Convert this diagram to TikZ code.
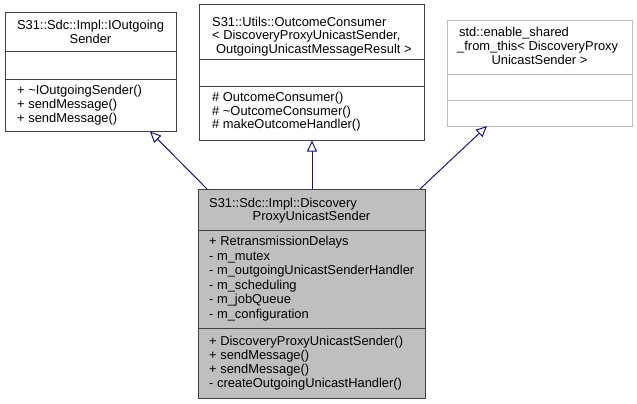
\documentclass[tikz,border=0pt]{standalone}
\usepackage{fontspec}
\newfontfamily\umlfont{Liberation Sans}
\usetikzlibrary{arrows.meta}
\definecolor{edgeblue}{HTML}{191970}
\definecolor{boxline}{HTML}{404040}
\definecolor{paleline}{HTML}{BFBFBF}
\definecolor{mainfill}{HTML}{BFBFBF}
\tikzset{
  txt/.style={anchor=base west, inner sep=0pt, font=\umlfont\fontsize{12.9}{14}\selectfont},
  ctxt/.style={txt, anchor=base},
  classbox/.style={draw=boxline, line width=1pt},
  inherit/.style={draw=edgeblue, line width=1pt,
    -{Triangle[open, length=11pt, width=10pt, fill=white]}},
}
\begin{document}
\begin{tikzpicture}[x=1pt, y=-1pt]
\useasboundingbox (0,0) rectangle (637,404);

% S31::Sdc::Impl::IOutgoingSender
\draw[classbox, fill=white] (5,13) rectangle (176,131);
\draw[boxline, line width=1pt] (5,52) -- (176,52) (5,79) -- (176,79);
\node[ctxt] (t1a) at (90.5,30) {S31::Sdc::Impl::IOutgoing};
\node[ctxt] (t1b) at (90.5,44) {Sender};
\node[txt] (m1a) at (17,94.3) {+ \textasciitilde IOutgoingSender()};
\node[txt] (m1b) at (17,108.3) {+ sendMessage()};
\node[txt] (m1c) at (17,122.3) {+ sendMessage()};

% S31::Utils::OutcomeConsumer
\draw[classbox, fill=white] (199,5) rectangle (424,140);
\draw[boxline, line width=1pt] (199,60) -- (424,60) (199,86) -- (424,86);
\node[txt] (t2a) at (212,27) {S31::Utils::OutcomeConsumer};
\node[txt] (t2b) at (212,40) {< DiscoveryProxyUnicastSender,};
\node[txt] (t2c) at (216,53) {OutgoingUnicastMessageResult >};
\node[txt] (m2a) at (212,101.7) {\# OutcomeConsumer()};
\node[txt] (m2b) at (212,115) {\# \textasciitilde OutcomeConsumer()};
\node[txt] (m2c) at (212,128.3) {\# makeOutcomeHandler()};

% std::enable_shared_from_this
\draw[draw=paleline, line width=1pt, fill=white] (447,21) rectangle (632,126);
\draw[paleline, line width=1pt] (447,75) -- (632,75) (447,100) -- (632,100);
\node[txt] (t3a) at (459,36.7) {std::enable\_shared};
\node[txt] (t3b) at (457,50.7) {\_from\_this< DiscoveryProxy};
\node[ctxt] (t3c) at (539.5,65) {UnicastSender >};

% S31::Sdc::Impl::DiscoveryProxyUnicastSender
\draw[classbox, fill=mainfill] (198,189) rectangle (425,398);
\draw[boxline, line width=1pt] (198,230) -- (425,230) (198,328) -- (425,328);
\node[txt] (t4a) at (209,207) {S31::Sdc::Impl::Discovery};
\node[ctxt] (t4b) at (311.5,220.7) {ProxyUnicastSender};
\node[txt] (f4a) at (209,245.7) {+ RetransmissionDelays};
\node[txt] (f4b) at (209,260.2) {- m\_mutex};
\node[txt] (f4c) at (209,274.7) {- m\_outgoingUnicastSenderHandler};
\node[txt] (f4d) at (209,289.2) {- m\_scheduling};
\node[txt] (f4e) at (209,303.7) {- m\_jobQueue};
\node[txt] (f4f) at (209,318.2) {- m\_configuration};
\node[txt] (o4a) at (209,345) {+ DiscoveryProxyUnicastSender()};
\node[txt] (o4b) at (209,359.1) {+ sendMessage()};
\node[txt] (o4c) at (209,373.2) {+ sendMessage()};
\node[txt] (o4d) at (209,387.3) {- createOutgoingUnicastHandler()};

% inheritance connectors
\coordinate (s1) at (207,189);
\coordinate (e1) at (150,131.5);
\coordinate (s2) at (312,189);
\coordinate (e2) at (312,140.5);
\coordinate (s3) at (420,189);
\coordinate (e3) at (487,126);
\draw[inherit] (s1) -- (e1);
\draw[inherit] (s2) -- (e2);
\draw[inherit] (s3) -- (e3);
\end{tikzpicture}
\end{document}
